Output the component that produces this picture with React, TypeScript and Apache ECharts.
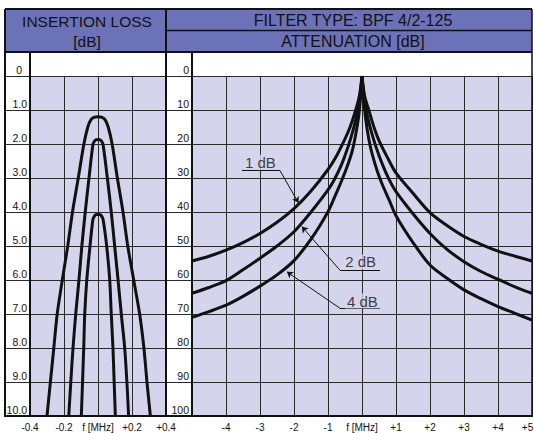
import React, { useEffect, useRef } from "react";
import * as echarts from "echarts";

const HEADER = "#6C72B8";
const PLOT_BG = "#D4D5EC";
const INK = "#111111";
const GRIDLINE = "#2a2a2a";
const FONT = '"Liberation Sans", Arial, Helvetica, sans-serif';

// ---------- Insertion loss panel (dB vs f offset in MHz) ----------
const loss1dBFreq = [-0.3, -0.28, -0.26, -0.24, -0.21, -0.178, -0.15, -0.116, -0.083, -0.06, -0.042, -0.024, 0, 0.024, 0.042, 0.06, 0.083, 0.114, 0.147, 0.175, 0.21, 0.245, 0.27, 0.288, 0.308];
const loss1dBValue = [10, 9, 8, 7, 6, 5, 4, 3, 2, 1.5, 1.29, 1.22, 1.2, 1.22, 1.29, 1.5, 2, 3, 4, 5, 6, 7, 8, 9, 10];

const loss2dBFreq = [-0.172, -0.16, -0.147, -0.131, -0.112, -0.095, -0.075, -0.053, -0.03, -0.021, -0.012, 0, 0.012, 0.021, 0.03, 0.055, 0.078, 0.098, 0.118, 0.137, 0.157, 0.17, 0.18];
const loss2dBValue = [10, 9, 8, 7, 6, 5, 4, 3, 2.02, 1.92, 1.88, 1.87, 1.88, 1.92, 2.02, 3, 4, 5, 6, 7, 8, 9, 10];

const loss4dBFreq = [-0.098, -0.091, -0.084, -0.078, -0.066, -0.047, -0.03, -0.021, -0.012, 0, 0.012, 0.021, 0.03, 0.051, 0.069, 0.078, 0.088, 0.095, 0.102];
const loss4dBValue = [10, 9, 8, 7, 6, 5, 4.22, 4.12, 4.08, 4.07, 4.08, 4.12, 4.22, 5, 6, 7, 8, 9, 10];

// ---------- Attenuation panel (dB vs |f offset| in MHz) ----------
const attn1dBOffset = [0, 0.08, 0.2, 0.35, 0.5, 0.75, 1.0, 1.5, 2, 2.5, 3, 3.5, 4, 4.5, 5];
const attn1dBLower = [0, 6, 10.5, 15, 18.5, 23.5, 27.5, 33.8, 39.0, 43, 46.3, 49, 51.2, 53, 54.4];
const attn1dBUpper = [0, 6, 10, 15, 19, 24, 28.5, 34.5, 40.2, 44, 47.2, 49.5, 51.5, 53, 54.4];

const attn2dBOffset = [0, 0.05, 0.12, 0.25, 0.4, 0.6, 0.8, 1.0, 1.5, 2, 2.5, 3, 3.5, 4, 4.5, 5];
const attn2dBLower = [0, 5.5, 10, 15.5, 20.5, 26, 30.2, 33.5, 40, 45.8, 50, 53.6, 57, 60.2, 62.2, 63.9];
const attn2dBUpper = [0, 5.5, 10, 15.5, 20.5, 26, 30.5, 34, 40.5, 46.3, 51, 54.6, 57.5, 59.8, 62, 63.9];

const attn4dBOffset = [0, 0.04, 0.1, 0.2, 0.3, 0.45, 0.6, 0.8, 1.0, 1.5, 2, 2.5, 3, 3.5, 4, 4.5, 5];
const attn4dBLower = [0, 6, 12, 18, 22.5, 27, 30.8, 35.5, 39.9, 48, 54.3, 58.5, 61.8, 64.8, 67.4, 69.3, 71];
const attn4dBUpper = [0, 6, 12, 18.5, 23, 28, 32, 36.5, 41.1, 49, 55.6, 59.5, 62.9, 65.5, 67.8, 69.8, 71.8];

// annotation labels (data coords of the attenuation panel)
const annotationText = ["1 dB", "2 dB", "4 dB"];
const annotationX = [-2.99, -0.04, 0.01];
const annotationY = [25.4, 54.7, 66.2];
const underlineFrom = [[-3.53, 27.85], [0.53, 57.1], [0.53, 68.3]];
const underlineTo = [[-2.41, 27.85], [-0.65, 57.1], [-0.65, 68.3]];
const leaderTo = [[-1.87, 37.3], [-1.77, 44.3], [-2.21, 57.6]];

const zip = (xs: number[], ys: number[]) => xs.map((x, i) => [x, ys[i]]);
const lowerHalf = (off: number[], vals: number[]) =>
  off.map((o, i) => [-o, vals[i]]).reverse();
const upperHalf = (off: number[], vals: number[]) => off.map((o, i) => [o, vals[i]]);

const r1 = (v: number) => Math.round(v * 10) / 10;

function buildOption(): any {
  const curveStyle = { color: INK, width: 3 };
  const lossSeries = [
    [loss1dBFreq, loss1dBValue],
    [loss2dBFreq, loss2dBValue],
    [loss4dBFreq, loss4dBValue],
  ].map(([f, v], i) => ({
    name: "loss" + i,
    type: "line",
    xAxisIndex: 0,
    yAxisIndex: 0,
    data: zip(f, v),
    showSymbol: false,
    symbol: "none",
    smooth: 0.3,
    lineStyle: curveStyle,
    z: 5,
  }));

  const attnSets = [
    [attn1dBOffset, attn1dBLower, attn1dBUpper],
    [attn2dBOffset, attn2dBLower, attn2dBUpper],
    [attn4dBOffset, attn4dBLower, attn4dBUpper],
  ];
  const attnSeries: any[] = [];
  attnSets.forEach(([off, lo, up], i) => {
    [lowerHalf(off, lo), upperHalf(off, up)].forEach((d, k) => {
      attnSeries.push({
        name: "attn" + i + "_" + k,
        type: "line",
        xAxisIndex: 1,
        yAxisIndex: 1,
        data: d,
        showSymbol: false,
        symbol: "none",
        smooth: 0.3,
        lineStyle: curveStyle,
        z: 5,
      });
    });
  });

  const axisLabelBase = { color: INK, fontSize: 10, fontFamily: FONT };
  const splitLine = { show: true, lineStyle: { color: GRIDLINE, width: 1 } };
  const axisLine = { show: true, onZero: false, lineStyle: { color: INK, width: 2 } };

  const line = (x1: number, y1: number, x2: number, y2: number, w = 2) => ({
    type: "line",
    shape: { x1, y1, x2, y2 },
    style: { stroke: INK, lineWidth: w },
    z: 100,
  });
  const text = (x: number, y: number, t: string, size: number) => ({
    type: "text",
    x,
    y,
    style: {
      text: t,
      fontSize: size,
      fontFamily: FONT,
      fill: INK,
      align: "center",
      verticalAlign: "middle",
    },
    z: 101,
  });

  return {
    animation: false,
    backgroundColor: "#ffffff",
    grid: [
      { left: 30, top: 76, width: 136, height: 340, show: true, backgroundColor: PLOT_BG, borderWidth: 0, containLabel: false, outerBoundsMode: "none" },
      { left: 192, top: 76, width: 340, height: 340, show: true, backgroundColor: PLOT_BG, borderWidth: 0, containLabel: false, outerBoundsMode: "none" },
      { left: 5, top: 76, width: 25, height: 340, show: false, containLabel: false, outerBoundsMode: "none" },
      { left: 166, top: 76, width: 26, height: 340, show: false, containLabel: false, outerBoundsMode: "none" },
    ],
    xAxis: [
      {
        gridIndex: 0,
        type: "value",
        min: -0.4,
        max: 0.4,
        interval: 0.2,
        axisLine,
        axisTick: { show: false },
        splitLine,
        axisLabel: {
          ...axisLabelBase,
          margin: 6,
          showMinLabel: true,
          showMaxLabel: true,
          formatter: (v: number) => {
            const r = r1(v);
            if (r === 0) return "f [MHz]";
            return r > 0 ? "+" + r.toFixed(1) : r.toFixed(1);
          },
        },
      },
      {
        gridIndex: 1,
        type: "value",
        min: -5,
        max: 5,
        interval: 1,
        axisLine,
        axisTick: { show: false },
        splitLine,
        axisLabel: {
          ...axisLabelBase,
          margin: 6,
          showMinLabel: true,
          showMaxLabel: true,
          formatter: (v: number) => {
            const r = Math.round(v);
            if (r === -5) return "";
            if (r === 5) return "{e|+5}";
            if (r === 0) return "f [MHz]";
            return r > 0 ? "+" + r : String(r);
          },
          rich: { e: { fontSize: 10, fontFamily: FONT, color: INK, padding: [0, 9, 0, 0] } },
        },
      },
      { gridIndex: 2, type: "value", min: 0, max: 1, show: false },
      { gridIndex: 3, type: "value", min: 0, max: 1, show: false },
    ],
    yAxis: [
      {
        gridIndex: 0,
        type: "value",
        inverse: true,
        min: 0,
        max: 10,
        interval: 1,
        axisLine,
        axisTick: { show: false },
        splitLine,
        axisLabel: {
          ...axisLabelBase,
          fontSize: 10.5,
          margin: 3,
          verticalAlign: "bottom",
          lineHeight: 13,
          showMinLabel: true,
          showMaxLabel: true,
          formatter: (v: number) => (r1(v) === 0 ? "{z|0}" : r1(v).toFixed(1)),
          rich: { z: { fontSize: 10.5, fontFamily: FONT, color: INK, padding: [0, 5, 0, 0] } },
        },
      },
      {
        gridIndex: 1,
        type: "value",
        inverse: true,
        min: 0,
        max: 100,
        interval: 10,
        axisLine,
        axisTick: { show: false },
        splitLine,
        axisLabel: {
          ...axisLabelBase,
          fontSize: 10.5,
          margin: 3,
          verticalAlign: "bottom",
          lineHeight: 13,
          showMinLabel: true,
          showMaxLabel: true,
          formatter: (v: number) => String(Math.round(v)),
        },
      },
      {
        gridIndex: 2,
        type: "value",
        inverse: true,
        min: 0,
        max: 10,
        interval: 1,
        axisLine: { show: false },
        axisTick: { show: false },
        axisLabel: { show: false },
        splitLine,
      },
      {
        gridIndex: 3,
        type: "value",
        inverse: true,
        min: 0,
        max: 100,
        interval: 10,
        axisLine: { show: false },
        axisTick: { show: false },
        axisLabel: { show: false },
        splitLine,
      },
    ],
    series: [
      ...lossSeries,
      ...attnSeries,
      {
        name: "underlines",
        type: "lines",
        coordinateSystem: "cartesian2d",
        xAxisIndex: 1,
        yAxisIndex: 1,
        symbol: ["none", "none"],
        lineStyle: { color: INK, width: 1, opacity: 1 },
        data: underlineFrom.map((p, i) => ({ coords: [p, underlineTo[i]] })),
        z: 6,
      },
      {
        name: "leaders",
        type: "lines",
        coordinateSystem: "cartesian2d",
        xAxisIndex: 1,
        yAxisIndex: 1,
        symbol: ["none", "arrow"],
        symbolSize: 6,
        lineStyle: { color: INK, width: 1, opacity: 1 },
        data: underlineTo.map((p, i) => ({ coords: [p, leaderTo[i]] })),
        z: 6,
      },
      {
        name: "labels",
        type: "scatter",
        xAxisIndex: 1,
        yAxisIndex: 1,
        symbolSize: 1,
        itemStyle: { color: "rgba(0,0,0,0)" },
        data: annotationText.map((t, i) => ({ name: t, value: [annotationX[i], annotationY[i]] })),
        label: {
          show: true,
          position: "inside",
          formatter: (p: any) => p.name,
          fontSize: 15,
          fontFamily: FONT,
          color: INK,
          backgroundColor: PLOT_BG,
          padding: [0, 2],
        },
        z: 7,
      },
    ],
    graphic: [
      {
        type: "rect",
        shape: { x: 5, y: 9, width: 527, height: 43 },
        style: { fill: HEADER },
        z: 99,
      },
      line(5, 9, 532, 9),
      line(5, 52, 532, 52),
      line(166, 30.5, 532, 30.5, 1.5),
      line(5, 9, 5, 417),
      line(166, 9, 166, 417),
      line(532, 9, 532, 417, 1.5),
      line(30, 52, 30, 417),
      line(192, 52, 192, 417),
      line(5, 416, 532, 416),
      text(87, 21, "INSERTION LOSS", 15.5),
      text(87, 41, "[dB]", 15.5),
      text(353, 20, "FILTER TYPE: BPF 4/2-125", 16),
      text(353, 41, "ATTENUATION [dB]", 16),
    ],
  };
}

export default function App() {
  const ref = useRef<HTMLDivElement>(null);
  useEffect(() => {
    if (!ref.current) return;
    const chart = echarts.init(ref.current, null, { renderer: "svg" });
    chart.setOption(buildOption());
    return () => chart.dispose();
  }, []);
  return (
    <div
      ref={ref}
      style={{ position: "fixed", left: 0, top: 0, width: 534, height: 433, background: "#fff" }}
    />
  );
}
